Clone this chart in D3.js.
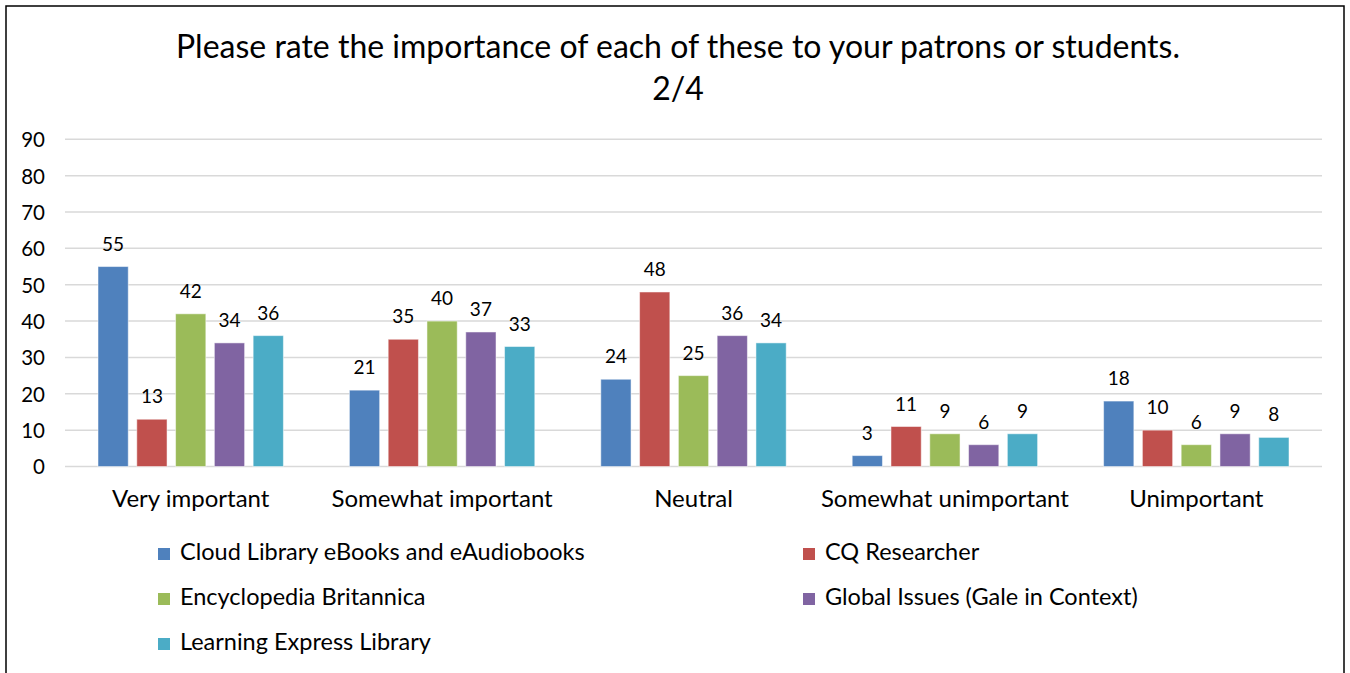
<!DOCTYPE html>
<html><head><meta charset="utf-8">
<script src="https://cdn.jsdelivr.net/npm/d3@7"></script>
<style>body{margin:0;background:#fff;} svg{display:block;} text{font-family:Lato, "Open Sans", sans-serif;fill:#000;}</style>
</head><body><svg id="c" width="1350" height="673"></svg>
<script>
const categories = ["Very important","Somewhat important","Neutral","Somewhat unimportant","Unimportant"];
const seriesNames = ["Cloud Library eBooks and eAudiobooks","CQ Researcher","Encyclopedia Britannica","Global Issues (Gale in Context)","Learning Express Library"];
const cloudLibrary = [55,21,24,3,18];
const cqResearcher = [13,35,48,11,10];
const britannica = [42,40,25,9,6];
const globalIssues = [34,37,36,6,9];
const learningExpress = [36,33,34,9,8];
const yTicks = [0,10,20,30,40,50,60,70,80,90];
const titleLines = ["Please rate the importance of each of these to your patrons or students.","2/4"];
const colors = ["#4F81BD","#C0504D","#9BBB59","#8064A2","#4BACC6"];
const seriesValues = [cloudLibrary,cqResearcher,britannica,globalIssues,learningExpress];

const svg = d3.select("#c");
svg.append("rect").attr("x",6).attr("y",6).attr("width",1338).attr("height",700)
  .attr("fill","#fff").attr("stroke","#000").attr("stroke-width",1.5);

svg.selectAll("text.title").data(titleLines).enter().append("text")
  .attr("x",678).attr("y",(d,i)=>58+i*42).attr("text-anchor","middle")
  .style("font-size","32px").text(d=>d);

const y = d3.scaleLinear().domain([0,90]).range([466.5,139.3]);
const x0 = d3.scaleBand().domain(categories).range([65,1322]);
const x1 = d3.scaleBand().domain(d3.range(seriesNames.length)).range([33, x0.bandwidth()-33]).paddingInner(0.22);

const g = svg.append("g");
g.selectAll("line.grid").data(yTicks).enter().append("line")
  .attr("x1",65).attr("x2",1322).attr("y1",d=>y(d)).attr("y2",d=>y(d))
  .attr("stroke","#d9d9d9").attr("stroke-width",1.5);

const yAxis = d3.axisLeft(y).tickValues(yTicks).tickSize(0).tickPadding(0);
const ya = svg.append("g").attr("transform","translate(45,0)").call(yAxis);
ya.select(".domain").remove();
ya.selectAll("text").style("font-size","20.5px").style("font-family","Lato").attr("fill","#000").attr("dy","0.36em");

const xAxis = d3.axisBottom(x0).tickSize(0).tickPadding(0);
const xa = svg.append("g").attr("transform","translate(0,507)").call(xAxis);
xa.select(".domain").remove();
xa.selectAll("text").style("font-size","24px").style("font-family","Lato").attr("fill","#000").attr("dy","0");

const rows = [];
categories.forEach((c,ci)=>seriesValues.forEach((s,si)=>rows.push({c,si,v:s[ci]})));
g.selectAll("rect.bar").data(rows).enter().append("rect")
  .attr("x",d=>x0(d.c)+x1(d.si)).attr("width",x1.bandwidth())
  .attr("y",d=>y(d.v)).attr("height",d=>y(0)-y(d.v))
  .attr("fill",d=>colors[d.si]).attr("stroke","#ffffff").attr("stroke-opacity",0.5).attr("stroke-width",1);
g.selectAll("text.val").data(rows).enter().append("text")
  .attr("x",d=>x0(d.c)+x1(d.si)+x1.bandwidth()/2).attr("y",d=>y(d.v)-16)
  .attr("text-anchor","middle").style("font-size","19px").text(d=>d.v);

const legPos = [[158,560],[803,560],[158,605],[803,605],[158,650]];
const lg = svg.selectAll("g.leg").data(seriesNames).enter().append("g")
  .attr("transform",(d,i)=>`translate(${legPos[i][0]},${legPos[i][1]})`);
lg.append("rect").attr("x",0).attr("y",-12).attr("width",12).attr("height",12).attr("fill",(d,i)=>colors[i]);
lg.append("text").attr("x",22).attr("y",0).style("font-size","23.5px").text(d=>d);
</script></body></html>
